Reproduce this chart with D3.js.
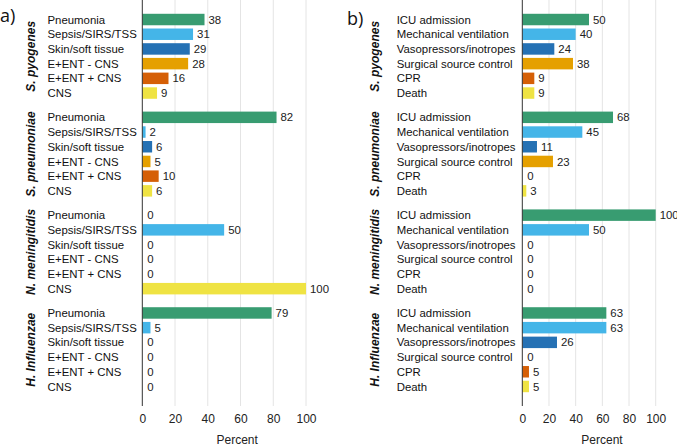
<!DOCTYPE html>
<html>
<head>
<meta charset="utf-8">
<script src="https://cdn.jsdelivr.net/npm/d3@7"></script>
<style>
  html, body { margin: 0; padding: 0; background: #fff; }
  svg { display: block; font-family: "Liberation Sans", Arial, sans-serif; }
</style>
</head>
<body>
<svg id="chart" width="677" height="446"></svg>
<script>
// ---------- data ----------
const organisms = ["S. pyogenes", "S. pneumoniae", "N. meningitidis", "H. Influenzae"];
const categoriesA = ["Pneumonia", "Sepsis/SIRS/TSS", "Skin/soft tissue", "E+ENT - CNS", "E+ENT + CNS", "CNS"];
const categoriesB = ["ICU admission", "Mechanical ventilation", "Vasopressors/inotropes", "Surgical source control", "CPR", "Death"];

const presentationPyogenes     = [38, 31, 29, 28, 16, 9];
const presentationPneumoniae   = [82, 2, 6, 5, 10, 6];
const presentationMeningitidis = [0, 50, 0, 0, 0, 100];
const presentationInfluenzae   = [79, 5, 0, 0, 0, 0];

const outcomePyogenes     = [50, 40, 24, 38, 9, 9];
const outcomePneumoniae   = [68, 45, 11, 23, 0, 3];
const outcomeMeningitidis = [100, 50, 0, 0, 0, 0];
const outcomeInfluenzae   = [63, 63, 26, 0, 5, 5];

const tickValues = [0, 20, 40, 60, 80, 100];
const axisTitle = "Percent";
const colors = ["#389c71", "#44b5e8", "#2571b4", "#e5a000", "#d55f06", "#efe343"];

const svg = d3.select("#chart");

function drawPanel(cfg) {
  const g = svg.append("g");
  const x = d3.scaleLinear().domain([0, 100]).range([cfg.x0, cfg.x1]);
  const yG = d3.scaleBand().domain(organisms).range([0, 406]).paddingInner(0.098).paddingOuter(0.1245);
  const yC = d3.scaleBand().domain(cfg.categories).range([0, yG.bandwidth()]).paddingInner(0.22).paddingOuter(0.11);

  // grid
  g.append("g").selectAll("line").data(tickValues.slice(1)).join("line")
    .attr("x1", d => x(d)).attr("x2", d => x(d))
    .attr("y1", 0).attr("y2", 406)
    .attr("stroke", "#e4e4e4").attr("stroke-width", 1);

  // x axis labels
  const ax = g.append("g").attr("transform", "translate(0,406)")
    .call(d3.axisBottom(x).tickValues(tickValues).tickSize(0).tickPadding(8).tickFormat(d3.format("d")));
  ax.select(".domain").remove();
  ax.selectAll("text").attr("font-size", 12).attr("fill", "#222")
    .attr("font-family", "'Liberation Sans', Arial, sans-serif");

  g.append("text").attr("x", x(50) + 13).attr("y", 444)
    .attr("text-anchor", "middle").attr("font-size", 12).attr("fill", "#222")
    .text(axisTitle);

  organisms.forEach((org, gi) => {
    const vals = cfg.values[gi];
    const gy = yG(org);
    const rows = cfg.categories.map((c, i) => ({ c, v: vals[i], i }));
    const grp = g.append("g").attr("transform", `translate(0,${gy})`);

    grp.selectAll("rect").data(rows).join("rect")
      .attr("x", x(0))
      .attr("y", d => yC(d.c))
      .attr("width", d => x(d.v) - x(0))
      .attr("height", yC.bandwidth())
      .attr("fill", d => colors[d.i]);

    grp.selectAll("text.val").data(rows).join("text").attr("class", "val")
      .attr("x", d => x(d.v) + (d.v > 0 ? 4 : 5))
      .attr("y", d => yC(d.c) + yC.bandwidth() / 2)
      .attr("dy", "0.36em")
      .attr("font-size", 11.4).attr("fill", "#222")
      .text(d => d.v);

    grp.selectAll("text.cat").data(rows).join("text").attr("class", "cat")
      .attr("x", cfg.labelX)
      .attr("y", d => yC(d.c) + yC.bandwidth() / 2)
      .attr("dy", "0.36em")
      .attr("font-size", 11.4).attr("fill", "#111")
      .text(d => d.c);

    grp.append("text")
      .attr("transform", `translate(${cfg.orgX},${yG.bandwidth() / 2}) rotate(-90)`)
      .attr("text-anchor", "middle")
      .attr("font-size", 12).attr("font-weight", "bold").attr("font-style", "italic")
      .attr("fill", "#111")
      .text(org);
  });

  // y axis line
  g.append("line").attr("x1", x(0)).attr("x2", x(0)).attr("y1", 0).attr("y2", 406)
    .attr("stroke", "#333").attr("stroke-width", 1);

  g.append("text").attr("x", cfg.tagX).attr("y", cfg.tagY)
    .attr("font-family", "'Open Sans', 'DejaVu Sans', sans-serif")
    .attr("font-size", 18).attr("fill", "#111")
    .text(cfg.tag);
}

drawPanel({
  categories: categoriesA,
  values: [presentationPyogenes, presentationPneumoniae, presentationMeningitidis, presentationInfluenzae],
  x0: 142.3, x1: 306, labelX: 47.5, orgX: 35, tag: "a)", tagX: 0, tagY: 22
});
drawPanel({
  categories: categoriesB,
  values: [outcomePyogenes, outcomePneumoniae, outcomeMeningitidis, outcomeInfluenzae],
  x0: 522.3, x1: 655.7, labelX: 396.7, orgX: 379, tag: "b)", tagX: 347, tagY: 25
});
</script>
</body>
</html>
